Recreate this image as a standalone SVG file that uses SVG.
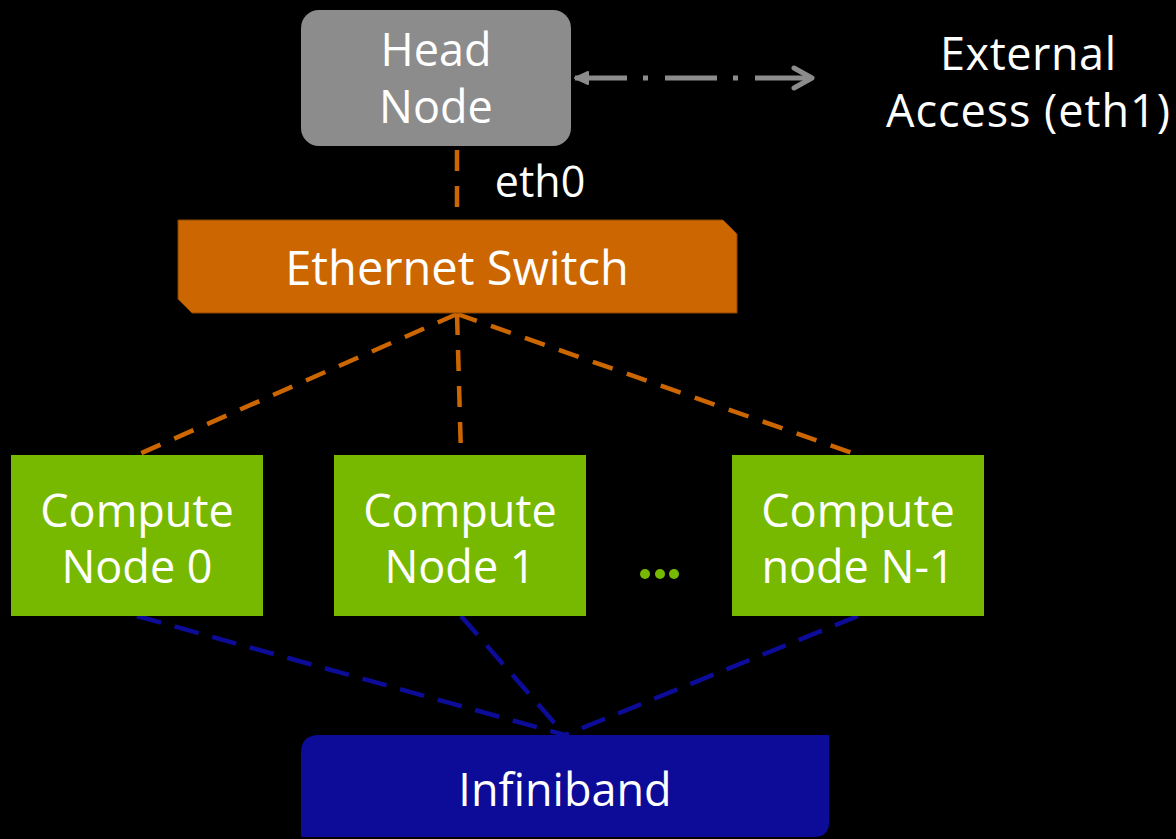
<svg xmlns="http://www.w3.org/2000/svg" width="1176" height="839" viewBox="0 0 1176 839">
  <defs>
    <style>
      .lbl { font-family: "Open Sans", "DejaVu Sans", sans-serif; font-size: 45px; fill: #ffffff; text-anchor: middle; }
      .eth { stroke: #cc6600; stroke-width: 4.5; stroke-dasharray: 21 15; fill: none; }
      .ib { stroke: #0c0c99; stroke-width: 4.5; stroke-dasharray: 25 14; fill: none; }
      .compute { fill: #76b900; }
    </style>
    <!-- open chevron at the outer end of the access link -->
    <marker id="chev" viewBox="0 0 26 26" refX="22" refY="13" markerWidth="26" markerHeight="26" markerUnits="userSpaceOnUse" orient="auto">
      <path d="M4 3 L22 13 L4 23" fill="none" stroke="#8c8c8c" stroke-width="5" stroke-linecap="round" stroke-linejoin="round"/>
    </marker>
    <!-- small solid head at the head-node end -->
    <marker id="tri" viewBox="0 0 18 18" refX="16" refY="9" markerWidth="18" markerHeight="18" markerUnits="userSpaceOnUse" orient="auto-start-reverse">
      <path d="M3 3 L16 9 L3 15 Z" fill="#8c8c8c" stroke="#8c8c8c" stroke-width="2" stroke-linejoin="round"/>
    </marker>
  </defs>

  <rect width="1176" height="839" fill="#000000"/>

  <!-- connectors -->
  <g id="connectors">
    <line x1="575" y1="78" x2="812" y2="78" stroke="#8c8c8c" stroke-width="5" stroke-dasharray="52 16 5 17" marker-start="url(#tri)" marker-end="url(#chev)"/>
    <line class="eth" x1="457" y1="150" x2="457" y2="220"/>
    <line class="eth" x1="457" y1="314" x2="137" y2="455"/>
    <line class="eth" x1="457" y1="314" x2="461" y2="455"/>
    <line class="eth" x1="457" y1="314" x2="858" y2="455"/>
    <line class="ib" x1="137" y1="616" x2="565" y2="735"/>
    <line class="ib" x1="461" y1="616" x2="565" y2="735"/>
    <line class="ib" x1="858" y1="616" x2="565" y2="735"/>
  </g>

  <g id="head-node">
    <rect x="301" y="10" width="270" height="136" rx="18" fill="#8c8c8c"/>
    <text class="lbl" x="436" y="66">Head</text>
    <text class="lbl" x="436" y="123">Node</text>
  </g>

  <g id="external-access">
    <text class="lbl" x="1028" y="70" textLength="176" lengthAdjust="spacing">External</text>
    <text class="lbl" x="1028" y="127" textLength="284" lengthAdjust="spacing">Access (eth1)</text>
  </g>

  <g id="eth0-label">
    <text class="lbl" x="540" y="197" style="font-size:43px">eth0</text>
  </g>

  <g id="ethernet-switch">
    <path d="M178 220 H723 L737 234 V313 H192 L178 299 Z" fill="#cc6600" stroke="#8a4400" stroke-width="1"/>
    <text class="lbl" x="457" y="285" style="font-size:47px">Ethernet Switch</text>
  </g>

  <g id="compute-node-0">
    <rect class="compute" x="11" y="455" width="252" height="161"/>
    <text class="lbl" x="137" y="527">Compute</text>
    <text class="lbl" x="137" y="583">Node 0</text>
  </g>

  <g id="compute-node-1">
    <rect class="compute" x="334" y="455" width="252" height="161"/>
    <text class="lbl" x="460" y="527">Compute</text>
    <text class="lbl" x="460" y="583">Node 1</text>
  </g>

  <g id="ellipsis">
    <circle cx="645" cy="574" r="5" fill="#76b900"/>
    <circle cx="660" cy="574" r="5" fill="#76b900"/>
    <circle cx="674" cy="574" r="5" fill="#76b900"/>
  </g>

  <g id="compute-node-n1">
    <rect class="compute" x="732" y="455" width="252" height="161"/>
    <text class="lbl" x="858" y="527">Compute</text>
    <text class="lbl" x="858" y="583">node N-1</text>
  </g>

  <g id="infiniband">
    <path d="M319 735 H829 V822 Q829 837 814 837 H301 V753 Q301 735 319 735 Z" fill="#0c0c99"/>
    <text class="lbl" x="565" y="806">Infiniband</text>
  </g>
</svg>
